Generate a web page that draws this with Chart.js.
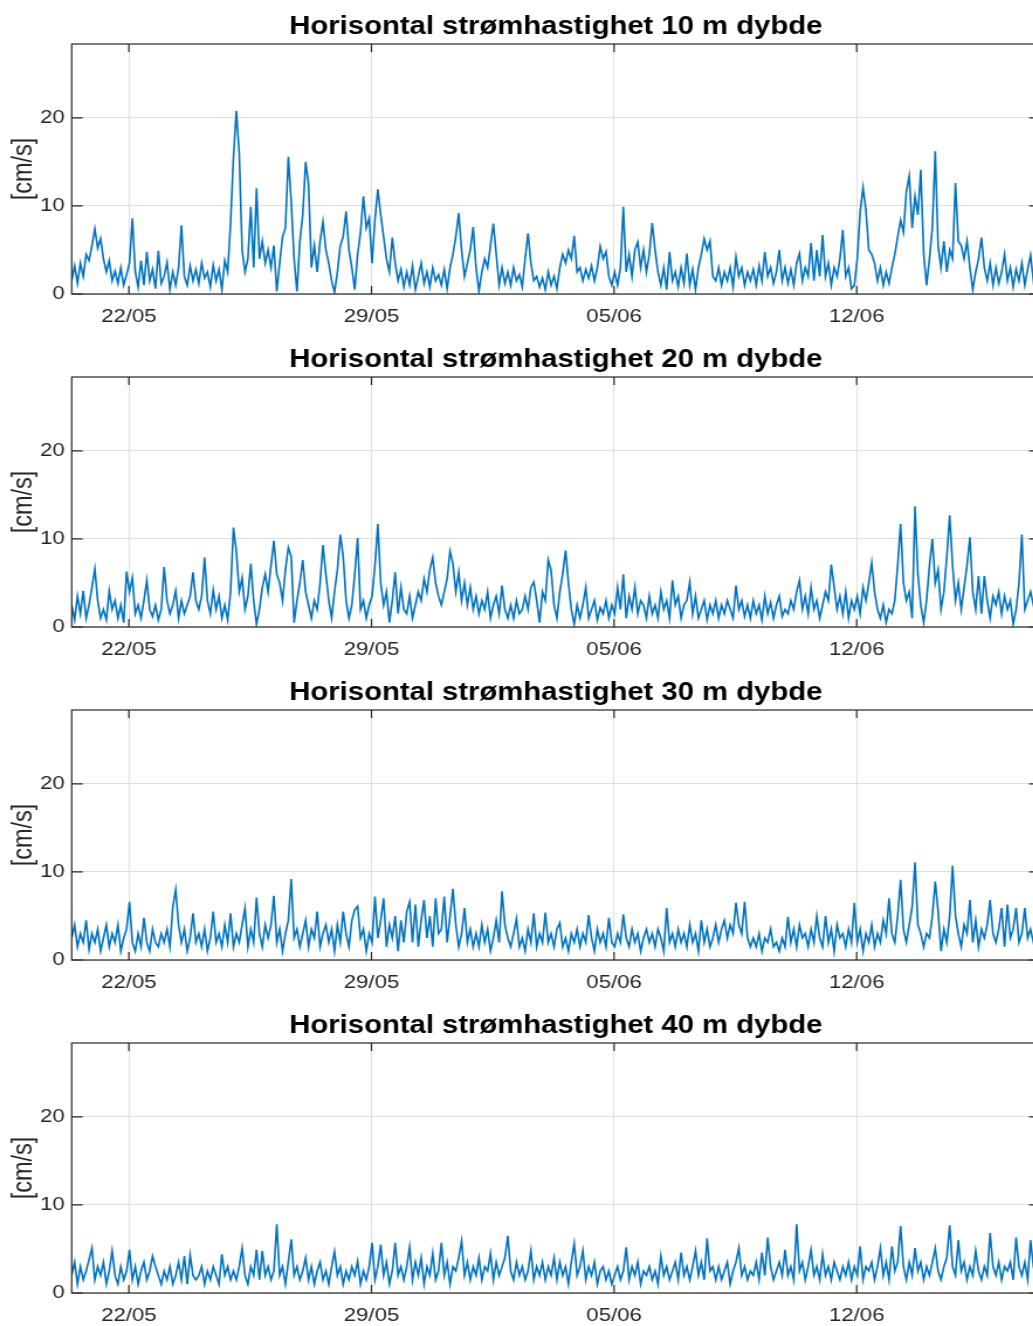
<!DOCTYPE html>
<html>
<head>
<meta charset="utf-8">
<script src="https://cdn.jsdelivr.net/npm/chart.js@4.4.1/dist/chart.umd.min.js"></script>
<style>
  html, body { margin: 0; padding: 0; background: #fff; overflow: hidden; }
  #wrap { position: relative; width: 1033px; height: 1326px; overflow: hidden; background: #fff; }
  .panel { position: absolute; left: 0; transform-origin: 0 0; transform: scaleX(1.17); }
</style>
</head>
<body>
<div id="wrap"></div>
<script>
// ---------------- DATA ----------------
const depths = [10, 20, 30, 40];
const titles = depths.map(d => `Horisontal strømhastighet ${d} m dybde`);
const yLabel = '[cm/s]';
// x positions are day numbers counted from 1 May (22 = 22/05, 36 = 05/06 ...)
const xTickValues = [22, 29, 36, 43];
const xTickLabels = ['22/05', '29/05', '05/06', '12/06'];
const yTickValues = [0, 10, 20];
const startDay = 20.35;       // first sample
const stepDays = 1 / 12;      // 2-hour samples

const speed10m = [
  1.5, 3.2, 1.2, 3.5, 2.0, 4.5, 3.8, 5.5,
  7.4, 5.2, 6.3, 4.0, 2.5, 3.8, 1.5, 2.6, 1.2, 3.0, 1.0, 2.2,
  3.5, 8.6, 2.5, 0.8, 3.8, 1.0, 4.8, 1.5, 2.8, 0.6, 4.9, 1.2,
  2.0, 3.6, 0.5, 2.5, 1.0, 3.0, 7.8, 2.0, 1.0, 3.2, 1.5, 2.8,
  1.2, 3.5, 1.8, 2.5, 0.8, 3.3, 1.5, 2.8, 0.5, 3.8, 2.5, 8.0,
  15.5, 20.8, 16.0, 5.0, 2.5, 4.0, 9.9, 3.0, 12.0, 4.0, 6.0, 3.5,
  5.0, 3.0, 5.5, 0.3, 3.5, 6.5, 7.5, 15.6, 10.5, 4.0, 0.3, 6.0,
  9.0, 15.0, 12.5, 3.0, 5.5, 2.5, 6.0, 8.2, 5.0, 3.5, 1.5, 0.2,
  2.5, 5.5, 6.5, 9.4, 5.0, 3.0, 0.5, 4.5, 7.0, 11.1, 7.5, 8.6,
  3.5, 8.5, 11.9, 9.0, 6.5, 4.0, 2.5, 6.4, 3.5, 1.5, 2.8, 0.8,
  2.5, 1.0, 3.2, 0.5, 2.0, 3.5, 1.2, 2.5, 0.8, 3.0, 1.5, 2.2,
  1.0, 2.8, 0.6, 3.0, 4.5, 6.5, 9.2, 5.0, 2.0, 3.5, 5.0, 7.6,
  3.0, 0.3, 2.5, 4.0, 3.0, 5.5, 8.0, 4.5, 1.0, 3.0, 1.2, 2.5,
  1.0, 3.0, 1.5, 2.2, 0.8, 4.0, 6.9, 3.5, 1.5, 2.0, 0.8, 1.8,
  0.5, 2.5, 1.0, 2.0, 0.6, 3.0, 4.5, 3.5, 5.0, 4.0, 6.6, 2.5,
  3.0, 1.5, 2.8, 1.8, 3.2, 1.5, 3.0, 5.4, 4.0, 4.8, 2.0, 1.0,
  2.5, 1.0, 3.0, 9.9, 2.5, 4.5, 2.0, 5.0, 5.9, 3.0, 5.0, 2.5,
  4.5, 8.1, 5.0, 2.5, 1.0, 3.0, 0.5, 4.8, 1.5, 2.5, 0.8, 3.0,
  1.2, 4.6, 1.0, 2.8, 0.5, 3.0, 4.5, 6.3, 5.0, 6.0, 2.0, 1.5,
  3.0, 1.0, 2.5, 1.5, 3.0, 0.8, 4.2, 2.0, 3.0, 1.0, 2.5, 1.5,
  2.8, 1.0, 3.2, 1.5, 4.8, 2.0, 3.0, 1.2, 2.5, 5.0, 1.5, 3.0,
  1.2, 2.8, 1.0, 3.5, 4.6, 1.5, 3.0, 2.0, 5.8, 1.5, 5.0, 2.0,
  6.7, 2.0, 3.5, 1.0, 3.0, 2.0, 4.0, 7.3, 2.0, 3.0, 0.6, 1.0,
  4.0, 9.3, 12.1, 9.5, 5.0, 4.5, 3.5, 1.5, 3.0, 1.0, 2.5, 1.2,
  3.0, 4.5, 6.5, 8.4, 7.0, 11.6, 13.4, 7.5, 11.1, 9.0, 14.1, 4.6,
  1.0, 4.0, 7.5, 16.2, 5.4, 3.0, 6.0, 2.5, 5.0, 4.0, 12.6, 6.0,
  5.5, 4.0, 6.0, 3.0, 0.5, 2.5, 4.0, 6.4, 3.0, 1.5, 3.5, 1.0,
  3.0, 1.2, 2.5, 4.5, 1.5, 3.0, 0.8, 2.8, 1.5, 3.5, 1.0, 2.8,
  4.4, 1.5, 3.0, 1.2, 2.5
];

const speed20m = [
  2.5, 0.8, 3.5, 1.5, 4.1, 1.0, 2.5, 4.5,
  6.6, 3.0, 1.0, 2.0, 0.8, 4.1, 2.0, 3.0, 1.0, 2.5, 0.5, 6.3,
  4.0, 5.6, 1.5, 2.5, 1.0, 3.0, 5.3, 2.0, 1.2, 2.5, 0.8, 2.0,
  6.8, 3.0, 1.5, 2.5, 4.1, 1.0, 3.0, 1.5, 2.5, 3.5, 6.2, 3.0,
  2.0, 3.5, 7.9, 3.0, 1.5, 4.2, 2.0, 3.5, 1.0, 2.5, 0.8, 4.0,
  11.3, 8.6, 4.0, 5.6, 2.0, 3.5, 7.2, 3.0, 0.3, 2.0, 4.5, 6.0,
  4.0, 7.0, 9.8, 6.0, 5.0, 3.0, 6.5, 9.0, 8.0, 0.5, 3.0, 5.0,
  7.6, 4.0, 2.5, 1.0, 3.0, 2.0, 5.0, 9.3, 6.0, 3.0, 1.0, 4.0,
  6.5, 10.5, 8.0, 3.0, 1.0, 2.5, 6.0, 10.1, 2.0, 3.0, 1.0, 2.5,
  3.5, 7.0, 11.7, 5.0, 2.5, 4.0, 0.5, 3.0, 6.2, 1.5, 4.5, 2.0,
  1.5, 3.5, 1.0, 2.5, 4.0, 3.0, 5.5, 4.0, 6.5, 7.9, 5.0, 3.5,
  2.5, 4.0, 5.5, 8.6, 7.2, 4.0, 6.2, 3.0, 5.0, 2.5, 4.5, 2.0,
  3.5, 1.5, 3.0, 2.0, 4.0, 1.0, 2.5, 3.5, 1.5, 4.7, 2.0, 1.0,
  2.5, 1.0, 3.0, 1.5, 2.0, 3.5, 2.0, 4.5, 5.1, 3.0, 0.5, 4.0,
  3.0, 7.6, 6.4, 2.5, 1.0, 4.0, 6.0, 8.7, 5.0, 2.0, 0.3, 2.5,
  1.0, 2.5, 4.5, 1.0, 2.0, 3.0, 0.8, 2.2, 1.5, 3.0, 1.0, 2.5,
  1.5, 4.5, 2.0, 6.0, 1.0, 3.5, 2.0, 4.5, 1.5, 3.0, 2.5, 1.0,
  3.5, 1.5, 2.5, 1.0, 4.0, 2.0, 3.0, 1.0, 5.3, 2.5, 3.5, 1.0,
  2.5, 3.0, 5.1, 1.5, 3.5, 1.0, 2.0, 3.0, 0.8, 2.5, 1.5, 3.0,
  1.0, 2.5, 1.5, 3.0, 2.0, 1.0, 4.7, 2.0, 3.0, 1.2, 2.5, 1.0,
  3.0, 1.5, 2.5, 0.8, 3.5, 1.5, 2.8, 1.0, 2.5, 3.5, 1.2, 2.0,
  1.5, 3.0, 2.0, 4.0, 5.3, 2.0, 3.5, 1.5, 4.5, 2.0, 3.0, 1.0,
  2.5, 4.0, 3.0, 7.1, 4.5, 2.0, 3.5, 1.5, 4.0, 1.0, 3.0, 2.0,
  3.5, 1.5, 4.5, 3.0, 5.0, 7.3, 4.0, 2.0, 1.0, 2.5, 0.5, 2.0,
  1.5, 3.0, 7.0, 11.7, 5.0, 3.0, 4.0, 1.0, 13.7, 6.0, 2.5, 0.5,
  3.0, 7.0, 10.0, 5.0, 6.5, 2.0, 4.0, 8.0, 12.7, 7.0, 3.0, 5.0,
  2.0, 4.5, 7.0, 10.2, 4.0, 2.0, 5.8, 1.5, 5.8, 3.0, 1.0, 3.5,
  2.5, 4.0, 1.5, 3.5, 2.0, 3.0, 0.3, 2.0, 5.0, 10.5, 2.0, 3.0,
  4.0, 2.5, 1.0, 3.5, 2.0
];

const speed30m = [
  2.5, 4.0, 1.5, 3.0, 2.0, 4.5, 1.2, 3.0,
  2.0, 3.5, 1.0, 2.5, 4.0, 1.5, 3.0, 2.0, 4.0, 1.0, 2.5, 3.5,
  6.6, 2.0, 1.0, 3.0, 1.5, 4.8, 2.0, 1.0, 3.5, 2.0, 1.5, 3.0,
  2.0, 3.5, 1.5, 6.0, 8.0, 4.0, 2.0, 3.5, 1.0, 2.5, 5.3, 2.0,
  3.0, 1.5, 3.5, 1.0, 2.5, 5.5, 2.0, 3.0, 1.5, 4.0, 2.0, 5.3,
  1.5, 3.0, 2.0, 4.0, 5.9, 1.5, 3.5, 2.0, 7.1, 3.0, 1.5, 4.0,
  2.5, 4.0, 7.3, 2.0, 3.5, 1.0, 3.0, 4.5, 9.2, 2.5, 3.5, 1.5,
  3.0, 4.5, 1.5, 3.5, 2.5, 5.5, 1.5, 3.0, 4.0, 2.0, 3.5, 1.0,
  4.0, 2.0, 5.5, 3.0, 1.5, 4.5, 5.7, 6.1, 2.5, 3.5, 1.0, 3.0,
  2.0, 7.2, 2.5, 4.5, 7.0, 1.5, 4.0, 2.5, 5.0, 1.0, 4.5, 2.0,
  5.5, 6.6, 2.0, 6.3, 1.5, 4.5, 6.8, 2.5, 5.0, 1.5, 7.0, 3.0,
  3.5, 7.2, 2.0, 5.0, 8.1, 4.0, 1.5, 3.0, 5.9, 2.0, 3.5, 1.5,
  3.0, 1.5, 4.0, 2.0, 3.5, 1.0, 2.5, 4.5, 2.0, 7.8, 4.0, 2.5,
  1.5, 3.0, 4.7, 1.5, 2.5, 1.0, 3.5, 2.0, 5.3, 1.5, 3.0, 2.0,
  5.4, 2.0, 3.0, 1.5, 3.5, 4.2, 1.5, 2.5, 1.0, 3.0, 2.0, 3.5,
  1.5, 3.0, 2.0, 5.1, 2.5, 1.0, 3.5, 2.0, 3.0, 1.5, 4.8, 2.0,
  1.5, 3.0, 2.0, 5.2, 2.5, 1.5, 3.5, 2.0, 3.0, 1.0, 2.5, 3.5,
  2.0, 3.0, 1.5, 3.5, 2.5, 1.0, 5.9, 2.0, 3.0, 1.5, 3.5, 2.0,
  3.0, 1.5, 4.0, 2.0, 3.0, 1.0, 4.5, 2.0, 3.5, 1.5, 2.5, 4.0,
  2.0, 3.5, 4.5, 2.5, 4.0, 3.0, 6.5, 4.0, 3.0, 6.6, 2.5, 1.5,
  2.5, 1.5, 3.0, 1.0, 2.5, 2.0, 3.5, 1.5, 2.0, 1.0, 2.5, 1.5,
  4.9, 2.0, 3.5, 1.5, 4.0, 2.5, 3.0, 1.5, 3.5, 2.0, 5.0, 2.5,
  1.5, 5.0, 2.0, 3.5, 1.0, 4.0, 2.5, 3.0, 1.5, 3.5, 2.0, 6.5,
  2.0, 3.5, 1.0, 3.0, 2.0, 4.0, 1.5, 3.0, 2.0, 4.5, 3.0, 7.0,
  3.0, 2.0, 5.0, 9.1, 3.5, 2.0, 4.0, 6.0, 11.1, 4.0, 3.0, 1.5,
  3.0, 2.5, 5.0, 8.9, 5.5, 1.0, 3.5, 2.0, 5.0, 10.7, 5.0, 3.0,
  1.5, 4.0, 3.0, 6.8, 2.0, 4.5, 1.5, 3.5, 2.5, 4.0, 6.8, 3.0,
  2.0, 3.5, 5.9, 1.5, 6.3, 2.5, 3.5, 5.9, 2.0, 3.0, 5.9, 2.5,
  3.5, 2.0, 4.5, 1.5, 3.0
];

const speed40m = [
  2.0, 3.5, 1.0, 3.0, 1.5, 2.5, 3.8, 5.1,
  1.5, 3.0, 2.0, 3.5, 1.0, 2.5, 4.8, 2.0, 1.0, 3.0, 1.5, 2.5,
  4.9, 1.5, 3.0, 1.0, 2.5, 3.5, 1.5, 2.5, 4.2, 3.0, 2.0, 1.0,
  2.5, 1.5, 3.0, 1.0, 2.0, 3.5, 1.5, 4.2, 1.0, 4.3, 2.0, 1.5,
  2.0, 3.0, 1.0, 2.5, 1.5, 3.0, 2.0, 1.0, 4.4, 2.0, 3.0, 1.5,
  2.5, 1.5, 3.0, 5.1, 2.0, 1.0, 3.0, 2.0, 4.9, 1.5, 4.8, 2.0,
  3.0, 1.5, 2.5, 7.8, 2.0, 3.0, 1.0, 3.5, 6.1, 2.0, 3.0, 1.5,
  2.5, 4.0, 1.5, 3.0, 1.0, 2.5, 3.5, 1.5, 2.5, 1.0, 3.0, 4.7,
  2.0, 3.0, 1.0, 2.5, 1.5, 3.0, 2.0, 3.6, 1.0, 2.5, 1.5, 3.0,
  5.7, 1.5, 3.0, 5.5, 2.0, 3.5, 1.0, 2.5, 5.7, 2.0, 3.0, 1.5,
  3.0, 5.2, 1.5, 3.5, 2.0, 4.0, 1.0, 3.0, 2.0, 4.5, 1.5, 2.5,
  5.7, 2.0, 3.5, 1.0, 3.0, 2.5, 4.0, 5.9, 2.0, 3.5, 1.5, 3.0,
  2.0, 4.0, 1.5, 3.0, 2.5, 4.5, 1.5, 3.5, 2.0, 3.0, 4.0, 6.5,
  2.5, 1.5, 3.5, 2.0, 3.0, 1.5, 2.5, 4.8, 1.5, 3.0, 2.0, 3.5,
  1.5, 3.0, 2.0, 4.0, 1.5, 3.5, 2.0, 3.0, 1.0, 3.5, 5.6, 2.0,
  3.0, 4.8, 1.5, 3.0, 2.0, 3.5, 1.0, 2.5, 3.0, 1.5, 2.5, 1.0,
  2.0, 3.0, 1.5, 2.5, 5.2, 1.5, 3.0, 2.0, 3.5, 1.0, 2.5, 2.0,
  3.0, 1.5, 2.5, 1.0, 4.2, 2.0, 3.0, 1.5, 2.5, 3.5, 1.5, 4.6,
  2.0, 3.0, 1.5, 3.0, 4.8, 2.0, 3.5, 1.5, 6.2, 2.5, 3.0, 1.5,
  3.0, 1.5, 2.5, 3.5, 1.0, 2.5, 3.5, 5.1, 2.0, 3.0, 1.5, 2.5,
  2.0, 3.5, 1.5, 4.6, 2.0, 6.3, 3.0, 1.5, 2.5, 3.5, 2.0, 4.9,
  2.0, 3.0, 1.5, 7.8, 2.5, 3.5, 1.5, 3.0, 4.9, 2.0, 3.0, 1.5,
  4.4, 2.0, 3.0, 1.5, 3.5, 2.5, 1.5, 3.0, 2.0, 3.5, 1.5, 3.0,
  2.0, 5.3, 1.5, 3.0, 2.5, 3.5, 1.5, 3.0, 5.1, 2.0, 3.5, 1.5,
  5.3, 2.5, 3.5, 7.6, 3.0, 1.5, 3.5, 2.0, 5.1, 2.5, 3.5, 1.5,
  3.0, 2.0, 3.5, 5.1, 2.5, 1.5, 3.0, 4.0, 7.7, 3.0, 2.0, 6.0,
  2.5, 3.5, 1.5, 3.0, 2.0, 4.8, 2.5, 1.5, 3.0, 2.0, 6.8, 3.0,
  2.0, 3.5, 1.5, 3.0, 2.5, 3.5, 1.5, 6.3, 3.0, 2.0, 3.5, 1.5,
  6.0, 3.0, 1.5, 3.5, 2.0
];

const seriesList = [speed10m, speed20m, speed30m, speed40m];

// ---------------- LAYOUT / STYLE ----------------
const STRETCH = 1.17;                 // horizontal stretch of the reference picture
const PANEL_H = 333;
const CANVAS_W = 895;                 // unstretched width (displayed ~1047, clipped to 1033)
const AREA_LEFT = 71.7 / STRETCH;
const AREA_RIGHT = 1040 / STRETCH;
const AREA_TOP = 44;
const AREA_BOTTOM = 294;
const X_MIN = 20.35, X_MAX = 48.29;
const Y_MIN = 0, Y_MAX = 28.4;
const FONT = "'Liberation Sans', Arial, Helvetica, sans-serif";
const AXIS_COLOR = '#262626';
const GRID_COLOR = '#dfdfdf';
const LINE_COLOR = '#0072BD';

const matlabAxes = {
  id: 'matlabAxes',
  afterDatasetsDraw(chart, args, opts) {
    const { ctx, chartArea: a, scales: { x, y } } = chart;
    ctx.save();
    ctx.strokeStyle = AXIS_COLOR;
    ctx.lineWidth = 1.2;
    ctx.strokeRect(a.left, a.top, a.right - a.left, a.bottom - a.top);
    ctx.beginPath();
    xTickValues.forEach(v => {
      const px = x.getPixelForValue(v);
      ctx.moveTo(px, a.bottom); ctx.lineTo(px, a.bottom - 8);
      ctx.moveTo(px, a.top); ctx.lineTo(px, a.top + 8);
    });
    yTickValues.forEach(v => {
      const py = y.getPixelForValue(v);
      ctx.moveTo(a.left, py); ctx.lineTo(a.left + 9.4, py);
      ctx.moveTo(a.right, py); ctx.lineTo(a.right - 9.4, py);
    });
    ctx.stroke();
    ctx.restore();
  },
  afterDraw(chart, args, opts) {
    const { ctx, chartArea: a } = chart;
    ctx.save();
    ctx.fillStyle = '#000';
    ctx.font = `bold 25px ${FONT}`;
    ctx.textAlign = 'center';
    ctx.textBaseline = 'alphabetic';
    ctx.fillText(opts.title, (a.left + a.right) / 2, 33.5);
    ctx.restore();
  }
};

const wrap = document.getElementById('wrap');

seriesList.forEach((values, i) => {
  const canvas = document.createElement('canvas');
  canvas.width = CANVAS_W;
  canvas.height = PANEL_H;
  canvas.className = 'panel';
  canvas.style.top = (i * PANEL_H) + 'px';
  wrap.appendChild(canvas);

  const points = values.map((v, k) => ({ x: startDay + k * stepDays, y: v }));

  new Chart(canvas, {
    type: 'line',
    data: {
      datasets: [{
        label: titles[i],
        data: points,
        borderColor: LINE_COLOR,
        borderWidth: 1.6,
        pointRadius: 0,
        tension: 0,
        fill: false
      }]
    },
    options: {
      responsive: false,
      animation: false,
      events: [],
      parsing: false,
      layout: { padding: { top: AREA_TOP, left: 0, right: CANVAS_W - AREA_RIGHT, bottom: 0 } },
      plugins: {
        legend: { display: false },
        tooltip: { enabled: false },
        title: { display: false },
        matlabAxes: { title: titles[i] }
      },
      scales: {
        x: {
          type: 'linear',
          min: X_MIN,
          max: X_MAX,
          afterBuildTicks: s => { s.ticks = xTickValues.map(v => ({ value: v })); },
          afterFit: s => { s.height = PANEL_H - AREA_BOTTOM; },
          grid: { color: GRID_COLOR, lineWidth: 1, drawTicks: false },
          border: { display: false },
          ticks: {
            padding: 11,
            color: AXIS_COLOR,
            maxRotation: 0,
            autoSkip: false,
            font: { family: FONT, size: 19 },
            callback: v => {
              const idx = xTickValues.indexOf(v);
              return idx >= 0 ? xTickLabels[idx] : '';
            }
          }
        },
        y: {
          min: Y_MIN,
          max: Y_MAX,
          afterBuildTicks: s => { s.ticks = yTickValues.map(v => ({ value: v })); },
          afterFit: s => { s.width = AREA_LEFT; },
          grid: { color: GRID_COLOR, lineWidth: 1, drawTicks: false },
          border: { display: false },
          ticks: {
            padding: 6,
            color: AXIS_COLOR,
            font: { family: FONT, size: 19 }
          },
          title: {
            display: true,
            text: yLabel,
            color: AXIS_COLOR,
            font: { family: FONT, size: 23.5 },
            padding: { top: 6, bottom: 0 }
          }
        }
      }
    },
    plugins: [matlabAxes]
  });
});
</script>
</body>
</html>
